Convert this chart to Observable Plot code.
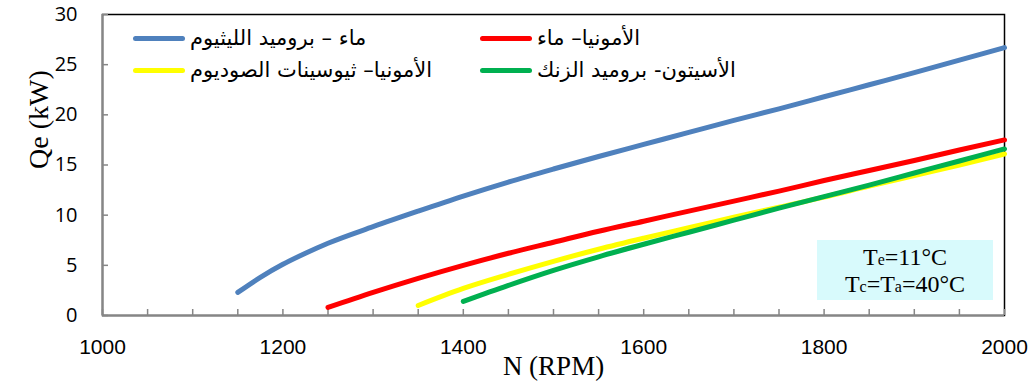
<!DOCTYPE html>
<html>
<head>
<meta charset="utf-8">
<script src="https://cdn.jsdelivr.net/npm/d3@7"></script>
<script src="https://cdn.jsdelivr.net/npm/@observablehq/plot@0.6"></script>
<style>
  body { margin: 0; background: white; }
  #wrap { position: relative; width: 1033px; height: 387px; overflow: hidden; }
  .leg { position: absolute; display: flex; align-items: center; font-family: "DejaVu Sans", sans-serif; font-size: 21px; color: #000; }
  .leg .sw { width: 52px; height: 5px; border-radius: 3px; margin-right: 5px; }
  .leg .tx { direction: rtl; unicode-bidi: embed; white-space: nowrap; }
  #note { position: absolute; left: 817px; top: 240px; width: 176px; height: 60px; background: #D8FAFC;
          font-family: "Liberation Serif", "DejaVu Serif", serif; font-size: 24px; line-height: 24px; text-align: center; padding-top: 5px; box-sizing: border-box; }
  #note .s { font-size: 16px; }
</style>
</head>
<body>
<div id="wrap"></div>
<script>
// ---- data ----
const seriesNames = ["ماء – بروميد الليثيوم", "الأمونيا– ماء", "الأمونيا– ثيوسينات الصوديوم", "الأسيتون- بروميد الزنك"];
const seriesColors = ["#4F81BD", "#FF0000", "#FFFF00", "#00B050"];

const rpmLiBr = [1150, 1175, 1200, 1225, 1250, 1300, 1350, 1400, 1450, 1500, 1550, 1600, 1650, 1700, 1750, 1800, 1850, 1900, 1950, 2000];
const qeLiBr  = [2.3, 3.8, 5.1, 6.2, 7.2, 8.85, 10.4, 11.9, 13.3, 14.6, 15.85, 17.05, 18.25, 19.45, 20.6, 21.8, 23.0, 24.2, 25.45, 26.7];

const rpmNH3W = [1250, 1300, 1350, 1400, 1450, 1500, 1550, 1600, 1650, 1700, 1750, 1800, 1850, 1900, 1950, 2000];
const qeNH3W  = [0.8, 2.3, 3.7, 5.0, 6.2, 7.3, 8.4, 9.4, 10.4, 11.4, 12.4, 13.45, 14.45, 15.45, 16.5, 17.5];

const rpmNH3Na = [1350, 1400, 1450, 1500, 1550, 1600, 1650, 1700, 1750, 1800, 1850, 1900, 1950, 2000];
const qeNH3Na  = [1.0, 2.7, 4.1, 5.4, 6.6, 7.7, 8.75, 9.8, 10.8, 11.8, 12.9, 13.95, 15.0, 16.1];

const rpmAcZn = [1400, 1450, 1500, 1550, 1600, 1650, 1700, 1750, 1800, 1850, 1900, 1950, 2000];
const qeAcZn  = [1.4, 3.0, 4.5, 5.85, 7.1, 8.3, 9.5, 10.7, 11.85, 13.0, 14.2, 15.4, 16.6];

const xMajorTicks = [1000, 1200, 1400, 1600, 1800, 2000];
const xMinorTicks = d3.range(1000, 2001, 50);
const yTicks = [0, 5, 10, 15, 20, 25, 30];
const xLabel = "N (RPM)";
const yLabel = "Qe (kW)";

// ---- build ----
const seriesData = [
  [rpmLiBr, qeLiBr], [rpmNH3W, qeNH3W], [rpmNH3Na, qeNH3Na], [rpmAcZn, qeAcZn]
].map(([xs, ys], i) => xs.map((x, j) => ({rpm: x, qe: ys[j], s: seriesNames[i]})));

const gray = "#868686";
const chart = Plot.plot({
  width: 1033, height: 387,
  marginLeft: 102, marginRight: 29, marginTop: 14, marginBottom: 72,
  x: {domain: [1000, 2000], label: null},
  y: {domain: [0, 30], label: null},
  style: {background: "white", fontFamily: "Liberation Sans, sans-serif", color: "black"},
  marks: [
    Plot.frame({stroke: "black", strokeWidth: 1.5}),
    Plot.ruleY([0], {stroke: gray, strokeWidth: 2}),
    Plot.ruleX([1000], {stroke: gray, strokeWidth: 2}),
    Plot.axisX({ticks: xMinorTicks, tickSize: -6, tickFormat: () => "", stroke: gray, strokeWidth: 1.5, label: null}),
    Plot.axisX({ticks: xMajorTicks, tickSize: 0, tickPadding: 24, tickFormat: d => String(d), fontSize: 21, fontFamily: "Liberation Sans Narrow, Liberation Sans, sans-serif", label: null}),
    Plot.axisY({ticks: yTicks, tickSize: -6, tickFormat: () => "", stroke: gray, strokeWidth: 1.5, label: null}),
    Plot.axisY({ticks: yTicks, tickSize: 0, tickPadding: 25, tickFormat: d => String(d), fontSize: 20, fontFamily: "Open Sans, sans-serif", label: null}),
    Plot.text([xLabel], {text: d => d, frameAnchor: "bottom", dy: 59, fontSize: 27, fontFamily: "Liberation Serif, serif"}),
    Plot.text([yLabel], {text: d => d, frameAnchor: "left", dx: -63, dy: 4, rotate: -90, fontSize: 28, fontFamily: "Liberation Serif, serif"}),
    ...seriesData.map((d, i) => Plot.line(d, {x: "rpm", y: "qe", stroke: seriesColors[i], strokeWidth: 5, strokeLinecap: "round", curve: "monotone-x"}))
  ]
});

const wrap = document.getElementById("wrap");
wrap.appendChild(chart);

// legend
const legPos = [[133, 38], [480, 38], [133, 70], [480, 70]];
seriesNames.forEach((name, i) => {
  const el = document.createElement("div");
  el.className = "leg";
  el.style.left = legPos[i][0] + "px";
  el.style.top = (legPos[i][1] - 13) + "px";
  el.style.height = "26px";
  el.innerHTML = `<div class="sw" style="background:${seriesColors[i]}"></div><span class="tx">${name}</span>`;
  wrap.appendChild(el);
});

// annotation
const note = document.createElement("div");
note.id = "note";
note.innerHTML = `T<span class="s">e</span>=11°C<br>T<span class="s">c</span>=T<span class="s">a</span>=40°C`;
wrap.appendChild(note);
</script>
</body>
</html>
